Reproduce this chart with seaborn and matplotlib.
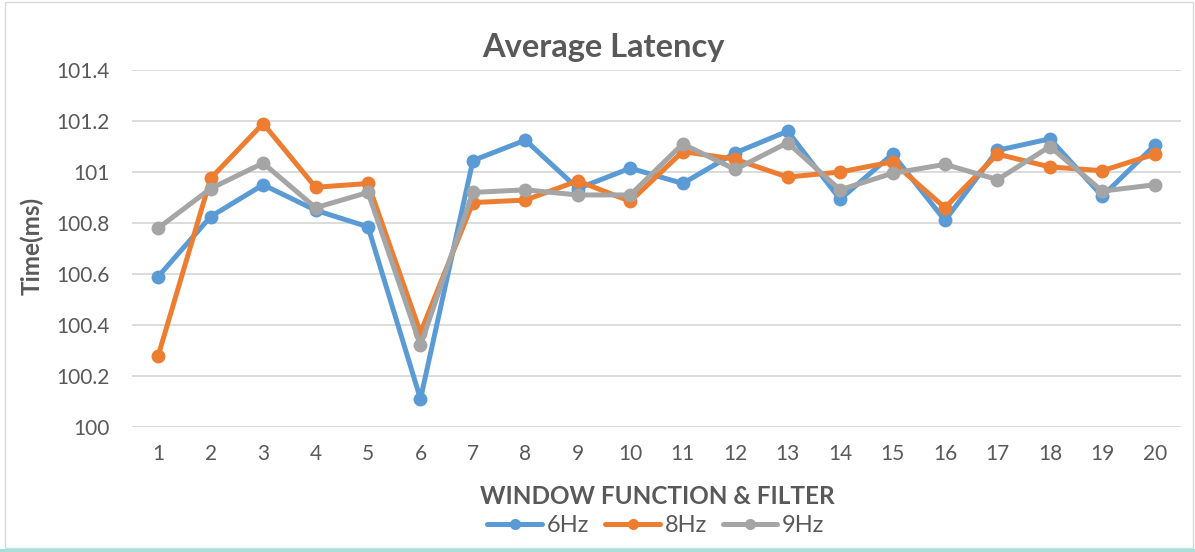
import numpy as np
import pandas as pd
import seaborn as sns
import matplotlib.pyplot as plt
from matplotlib.patches import Rectangle

# x categories (window function & filter combination index)
categories = list(range(1, 21))

# average latency per series (ms)
lat_6hz = [100.59, 100.825, 100.95, 100.85, 100.785, 100.11, 101.045, 101.125, 100.935, 101.015,
           100.955, 101.075, 101.16, 100.893, 101.07, 100.81, 101.085, 101.13, 100.905, 101.105]
lat_8hz = [100.28, 100.975, 101.19, 100.94, 100.955, 100.37, 100.88, 100.89, 100.965, 100.885,
           101.08, 101.05, 100.98, 101.0, 101.04, 100.86, 101.07, 101.02, 101.005, 101.07]
lat_9hz = [100.78, 100.935, 101.035, 100.86, 100.92, 100.32, 100.92, 100.93, 100.91, 100.91,
           101.11, 101.01, 101.115, 100.93, 100.995, 101.03, 100.97, 101.1, 100.925, 100.95]
series_names = ['6Hz', '8Hz', '9Hz']
yticks = [100, 100.2, 100.4, 100.6, 100.8, 101, 101.2, 101.4]
ytick_labels = ['100', '100.2', '100.4', '100.6', '100.8', '101', '101.2', '101.4']

palette = {'6Hz': '#5B9BD5', '8Hz': '#ED7D31', '9Hz': '#A5A5A5'}
text_color = '#595959'

df = pd.DataFrame({
    'window': categories * 3,
    'latency': lat_6hz + lat_8hz + lat_9hz,
    'freq': [s for s in series_names for _ in categories],
})

sns.set_style('white')
plt.rcParams['font.family'] = ['Lato', 'DejaVu Sans']

W, H = 1195, 552
fig = plt.figure(figsize=(W / 100, H / 100), dpi=100)
ax = fig.add_axes([132 / W, 1 - 427 / H, (1181 - 132) / W, (427 - 70) / H])

sns.lineplot(data=df, x='window', y='latency', hue='freq', palette=palette,
             marker='o', markersize=10, markeredgewidth=0, linewidth=3.6, ax=ax)

ax.set_xlim(0.5, 20.5)
ax.set_ylim(100, 101.4)
ax.set_xticks(categories)
ax.set_xticklabels([str(c) for c in categories])
ax.set_yticks(yticks)
ax.set_yticklabels(ytick_labels)
ax.tick_params(axis='both', labelsize=15, colors=text_color, length=0)
ax.tick_params(axis='x', pad=12)
ax.tick_params(axis='y', pad=16)
ax.grid(axis='y', color='#D9D9D9', linewidth=1.3)
ax.set_axisbelow(True)
for side in ['top', 'right', 'left', 'bottom']:
    ax.spines[side].set_visible(False)
ax.set_xlabel('')
ax.set_ylabel('')

fig.text(657 / W, 1 - 497 / H, 'WINDOW FUNCTION & FILTER', ha='center', va='center',
         fontsize=17.5, fontweight='bold', color=text_color)
fig.text(32 / W, 1 - 246 / H, 'Time(ms)', ha='center', va='center', rotation=90,
         fontsize=17.5, fontweight='bold', color=text_color)
fig.text(603 / W, 1 - 48 / H, 'Average Latency', ha='center', va='center',
         fontsize=23.5, fontweight='bold', color=text_color)

handles, labels = ax.get_legend_handles_labels()
ax.get_legend().remove()
leg = fig.legend(handles, labels, loc='center', bbox_to_anchor=(656 / W, 1 - 526 / H), ncol=3,
                 frameon=False, fontsize=17, handlelength=2.3, columnspacing=0.7,
                 handletextpad=0.2, labelcolor=text_color)
for h in leg.legend_handles:
    h.set_linewidth(3.6)
    h.set_markersize(8)

# chart border and bottom accent line
fig.patches.append(Rectangle((5 / W, 4 / H), 1188 / W, 546 / H, transform=fig.transFigure,
                             fill=False, edgecolor='#D9D9D9', linewidth=1))
fig.patches.append(Rectangle((0, 0), 1, 3 / H, transform=fig.transFigure,
                             facecolor='#9FE3DA', edgecolor='none'))

fig.savefig('out.png', dpi=100)
